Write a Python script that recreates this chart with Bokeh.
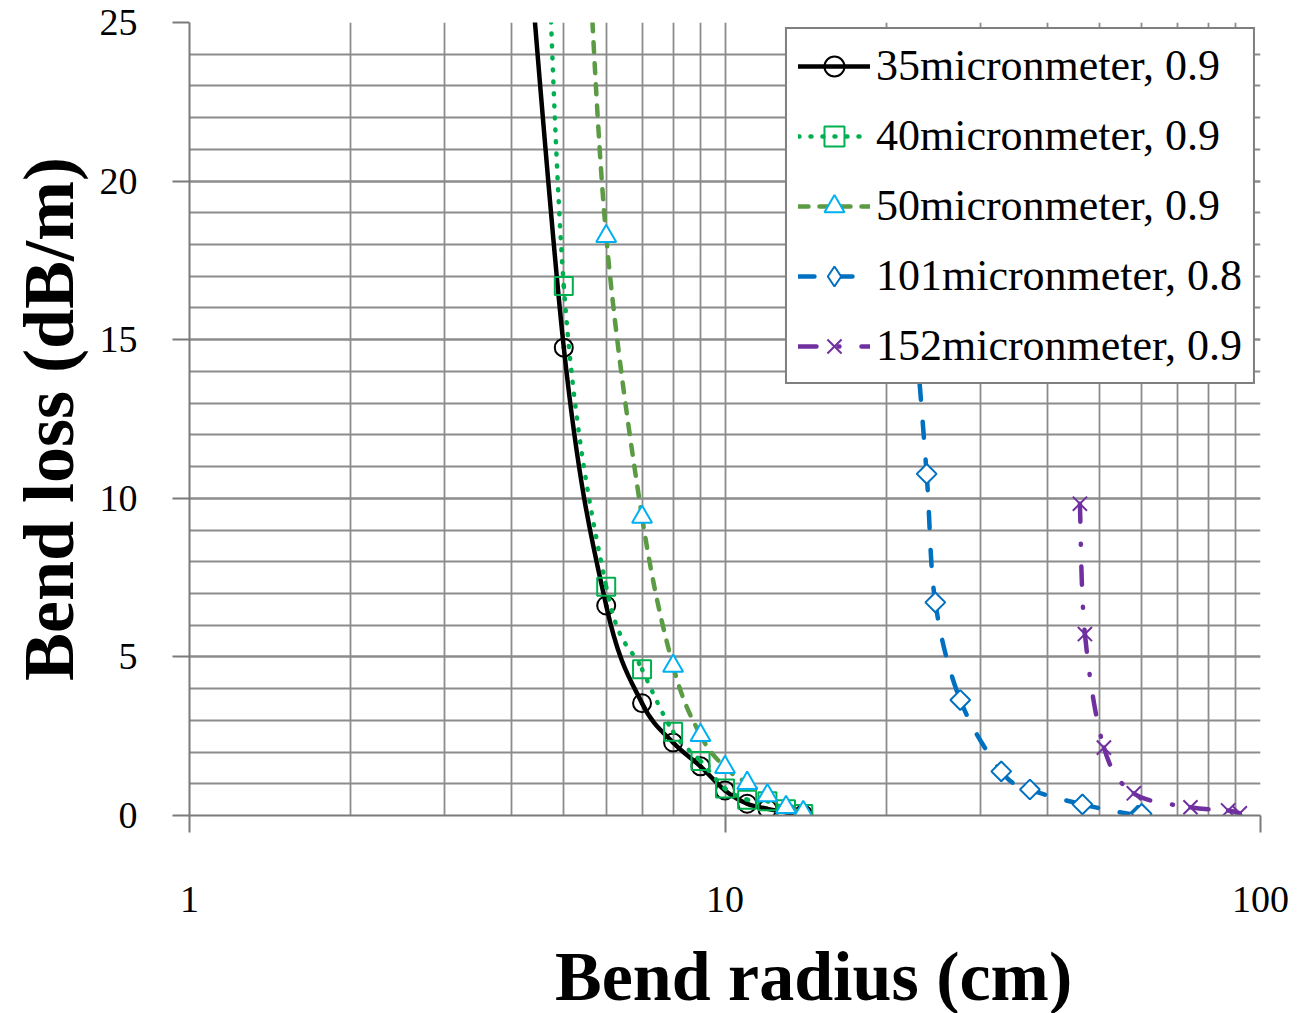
import numpy as np
from bokeh.plotting import figure
from bokeh.layouts import column
from bokeh.models import (FixedTicker, PrintfTickFormatter, Legend, LegendItem,
                          ColumnDataSource, Div)
from bokeh.embed import file_html
from bokeh.resources import INLINE

# Bend radius (cm) and bend loss (dB/m) per fibre core / NA
r35 = [4.0, 5.0, 6.0, 7.0, 8.0, 9.0, 10.0, 11.0, 12.0, 13.0, 14.0]
loss35 = [34.0, 14.75, 6.62, 3.54, 2.30, 1.55, 0.79, 0.37, 0.21, 0.10, 0.03]

r40 = [4.5, 5.0, 6.0, 7.0, 8.0, 9.0, 10.0, 11.0, 12.0, 13.0, 14.0]
loss40 = [36.0, 16.69, 7.21, 4.61, 2.64, 1.72, 0.85, 0.50, 0.45, 0.20, 0.05]

r50 = [5.5, 6.0, 7.0, 8.0, 9.0, 10.0, 11.0, 12.0, 13.0, 14.0]
loss50 = [29.0, 18.26, 9.41, 4.71, 2.53, 1.52, 1.02, 0.63, 0.26, 0.10]

r101 = [22.5, 23.8, 24.7, 27.5, 32.8, 37.1, 46.5, 59.0, 60.0]
loss101 = [16.0, 10.77, 6.72, 3.64, 1.39, 0.82, 0.35, 0.0, 0.05]

r152 = [46.0, 47.0, 51.0, 58.0, 74.0, 87.0, 91.5]
loss152 = [9.83, 5.72, 2.14, 0.70, 0.26, 0.16, 0.07]

labels = ["35micronmeter, 0.9", "40micronmeter, 0.9", "50micronmeter, 0.9",
          "101micronmeter, 0.8", "152micronmeter, 0.9"]

x_major = [1, 10, 100]
y_major = [0, 5, 10, 15, 20, 25]


def smooth(xs, ys):
    """Cubic Bezier pieces through the points (smoothed line on a log x axis)."""
    u = np.log10(np.asarray(xs, dtype=float))
    v = np.asarray(ys, dtype=float)
    n = len(u)
    d = {k: [] for k in ("x0", "y0", "x1", "y1", "cx0", "cy0", "cx1", "cy1")}
    for i in range(n - 1):
        a = i - 1 if i > 0 else i
        b = i + 2 if i + 2 < n else i + 1
        d["x0"].append(10 ** u[i]); d["y0"].append(v[i])
        d["x1"].append(10 ** u[i + 1]); d["y1"].append(v[i + 1])
        d["cx0"].append(10 ** (u[i] + (u[i + 1] - u[a]) / 6))
        d["cy0"].append(v[i] + (v[i + 1] - v[a]) / 6)
        d["cx1"].append(10 ** (u[i + 1] - (u[b] - u[i]) / 6))
        d["cy1"].append(v[i + 1] - (v[b] - v[i]) / 6)
    return ColumnDataSource(d)


def curve(xs, ys, **line):
    return p.bezier(x0="x0", y0="y0", x1="x1", y1="y1", cx0="cx0", cy0="cy0",
                    cx1="cx1", cy1="cy1", source=smooth(xs, ys),
                    line_width=4.5, line_cap="round", **line)


SERIF = "Liberation Serif"
GRID = "#8c8c8c"
AXIS = "#7a7a7a"

p = figure(width=1301, height=940, x_axis_type="log",
           x_range=(1, 100), y_range=(0, 25),
           min_border_left=189, min_border_right=41,
           min_border_top=22, min_border_bottom=125,
           output_backend="svg", toolbar_location=None, margin=0)
p.outline_line_color = None
p.background_fill_color = "white"
p.border_fill_color = "white"

# axes
p.xaxis.ticker = FixedTicker(ticks=x_major,
                             minor_ticks=[2, 3, 4, 5, 6, 7, 8, 9,
                                          20, 30, 40, 50, 60, 70, 80, 90])
p.xaxis.formatter = PrintfTickFormatter(format="%d")
p.yaxis.ticker = FixedTicker(ticks=y_major, minor_ticks=list(range(0, 26)))

for ax in (p.xaxis[0], p.yaxis[0]):
    ax.axis_line_color = AXIS
    ax.axis_line_width = 2
    ax.major_tick_line_color = AXIS
    ax.major_tick_line_width = 2
    ax.major_tick_in = 0
    ax.major_tick_out = 17
    ax.minor_tick_line_color = None
    ax.major_label_text_font = SERIF
    ax.major_label_text_font_size = "38px"
    ax.major_label_text_color = "black"

p.yaxis.axis_label = "Bend loss (dB/m)"
p.yaxis.axis_label_text_font = SERIF
p.yaxis.axis_label_text_font_style = "bold"
p.yaxis.axis_label_text_font_size = "72px"
p.yaxis.axis_label_text_color = "black"
p.yaxis.major_label_standoff = 35
p.yaxis.axis_label_standoff = 8
p.xaxis.major_label_standoff = 54

for g in (p.xgrid[0], p.ygrid[0]):
    g.grid_line_color = GRID
    g.grid_line_width = 1.8
    g.minor_grid_line_color = GRID
    g.minor_grid_line_width = 1.8
p.xgrid.ticker = p.xaxis.ticker
p.ygrid.ticker = p.yaxis.ticker

items = []

# 35 um
l1 = curve(r35, loss35, line_color="black")
m1 = p.scatter(r35, loss35, marker="circle", size=18, line_color="black",
               line_width=2, fill_color=None)
items.append(LegendItem(label=labels[0], renderers=[l1, m1]))

# 40 um
l2 = curve(r40, loss40, line_color="#00b050", line_dash="1 11")
m2 = p.scatter(r40, loss40, marker="square", size=18, line_color="#00b050",
               line_width=2, fill_color=None)
items.append(LegendItem(label=labels[1], renderers=[l2, m2]))

# 50 um
l3 = curve(r50, loss50, line_color="#5b9b43", line_dash="10 11")
m3 = p.scatter(r50, loss50, marker="triangle", size=20, line_color="#00b0f0",
               line_width=2, fill_color="white")
items.append(LegendItem(label=labels[2], renderers=[l3, m3]))

# 101 um: square diamonds; the narrow diamond sits inside them and
# supplies the legend symbol
l4 = curve(r101, loss101, line_color="#0070c0", line_dash="16 22")
k4 = p.scatter(r101, loss101, marker="diamond", size=19,
               line_color="#0070c0", line_width=2, fill_color="white")
m4 = p.scatter(r101, loss101, marker="square", angle=np.pi / 4, size=14,
               line_color="#0070c0", line_width=2, fill_color="white")
items.append(LegendItem(label=labels[3], renderers=[l4, k4]))

# 152 um
l5 = curve(r152, loss152, line_color="#7030a0", line_dash="18 22 1 22")
m5 = p.scatter(r152, loss152, marker="x", size=20, line_color="#7030a0",
               line_width=2)
items.append(LegendItem(label=labels[4], renderers=[l5, m5]))

legend = Legend(items=items, location="top_right",
                glyph_width=72, glyph_height=50, label_height=50,
                label_standoff=6, spacing=19, padding=11, margin=5,
                label_text_font=SERIF, label_text_font_size="44px",
                label_text_color="black",
                border_line_color="black", border_line_width=2,
                background_fill_color="white", background_fill_alpha=1.0)
p.add_layout(legend, "center")

# x axis title, set a little right of centre under the frame
xtitle = Div(
    text=("<div style=\"margin-left:555px; white-space:nowrap; "
          "font-family:'Liberation Serif'; font-weight:bold; font-size:70px; "
          "line-height:73px; color:black;\">Bend radius (cm)</div>"),
    width=1301, height=73, margin=0,
    styles={"background-color": "white"})

layout = column(p, xtitle, spacing=0, margin=0)
open("out.html", "w").write(file_html(layout, INLINE))
